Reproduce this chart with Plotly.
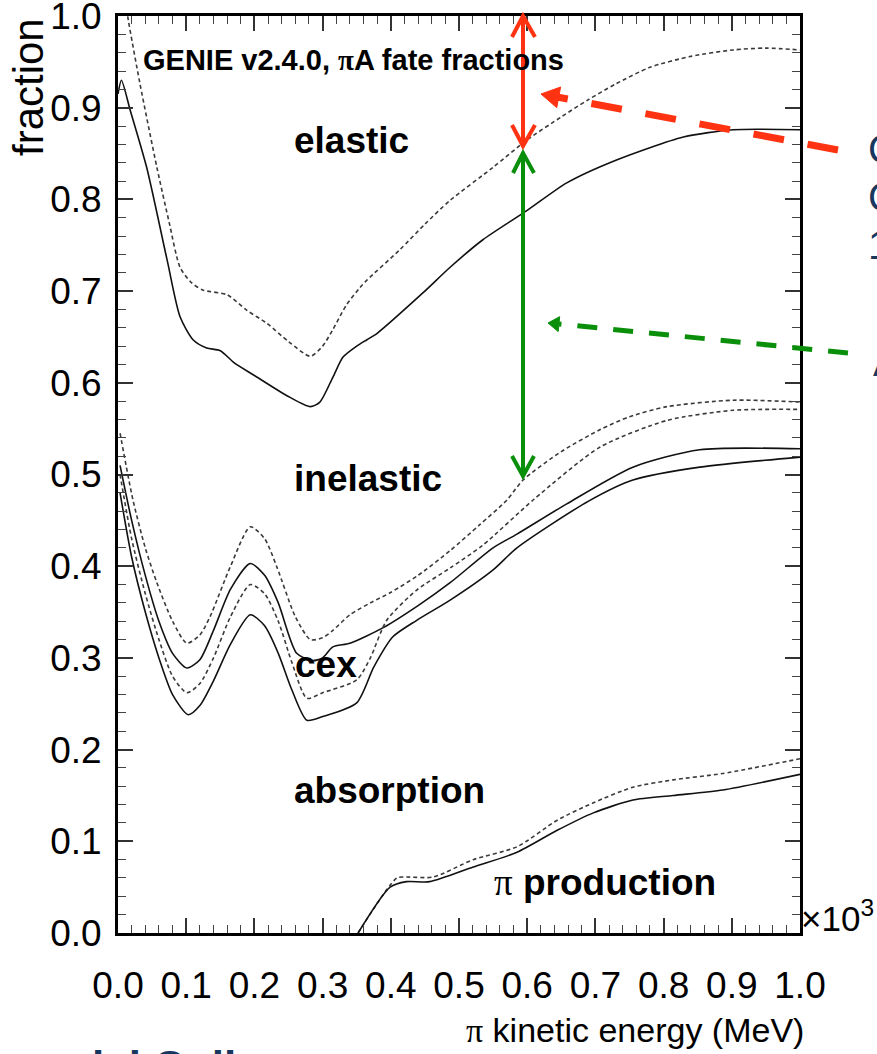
import plotly.graph_objects as go

# ---------------- data ----------------
# pion kinetic energy in units of 10^3 MeV
el_hi_x = [0.008, 0.015, 0.032, 0.057, 0.075, 0.091, 0.108, 0.125, 0.16, 0.189, 0.218, 0.25, 0.282, 0.30,
           0.315, 0.335, 0.355, 0.365, 0.413, 0.45, 0.487, 0.55, 0.6, 0.65, 0.688, 0.73, 0.78, 0.84, 0.902, 0.95, 1.0]
el_hi_y = [1.03, 0.996, 0.927, 0.835, 0.775, 0.726, 0.709, 0.701, 0.696, 0.679, 0.665, 0.645, 0.629, 0.64,
           0.658, 0.685, 0.704, 0.712, 0.745, 0.773, 0.799, 0.835, 0.865, 0.89, 0.908, 0.926, 0.944, 0.956, 0.963, 0.965, 0.963]

el_lo_x = [0.0, 0.005, 0.018, 0.042, 0.072, 0.091, 0.11, 0.13, 0.15, 0.17, 0.2, 0.25, 0.282, 0.296, 0.315,
           0.33, 0.35, 0.365, 0.38, 0.447, 0.487, 0.535, 0.6, 0.658, 0.731, 0.829, 0.902, 1.0]
el_lo_y = [0.915, 0.93, 0.897, 0.835, 0.734, 0.672, 0.647, 0.638, 0.635, 0.622, 0.608, 0.585, 0.574, 0.579, 0.606,
           0.628, 0.64, 0.647, 0.654, 0.698, 0.726, 0.756, 0.788, 0.818, 0.843, 0.868, 0.876, 0.876]

in_d1_x = [0.003, 0.022, 0.04, 0.057, 0.08, 0.101, 0.12, 0.135, 0.165, 0.194, 0.215, 0.233, 0.26, 0.282, 0.30,
           0.315, 0.34, 0.37, 0.399, 0.44, 0.487, 0.53, 0.57, 0.594, 0.65, 0.707, 0.75, 0.805, 0.902, 1.0]
in_d1_y = [0.545, 0.472, 0.42, 0.382, 0.34, 0.316, 0.325, 0.345, 0.40, 0.443, 0.43, 0.399, 0.345, 0.32, 0.322,
           0.33, 0.347, 0.36, 0.371, 0.39, 0.417, 0.445, 0.472, 0.494, 0.525, 0.549, 0.563, 0.574, 0.581, 0.579]

in_s1_x = [0.003, 0.02, 0.04, 0.06, 0.08, 0.101, 0.12, 0.14, 0.165, 0.194, 0.215, 0.235, 0.262, 0.285, 0.30,
           0.315, 0.34, 0.389, 0.44, 0.487, 0.55, 0.585, 0.658, 0.755, 0.853, 1.0]
in_s1_y = [0.51, 0.45, 0.39, 0.34, 0.305, 0.289, 0.298, 0.33, 0.375, 0.403, 0.39, 0.36, 0.305, 0.297, 0.30,
           0.312, 0.316, 0.333, 0.357, 0.382, 0.42, 0.435, 0.468, 0.508, 0.527, 0.528]

in_d2_x = [0.003, 0.02, 0.04, 0.06, 0.08, 0.101, 0.12, 0.14, 0.165, 0.194, 0.215, 0.235, 0.255, 0.277, 0.30,
           0.35, 0.37, 0.394, 0.438, 0.487, 0.535, 0.61, 0.707, 0.805, 0.902, 1.0]
in_d2_y = [0.50, 0.43, 0.37, 0.32, 0.28, 0.262, 0.272, 0.30, 0.345, 0.38, 0.37, 0.34, 0.295, 0.256, 0.262,
           0.276, 0.30, 0.341, 0.374, 0.398, 0.423, 0.473, 0.53, 0.559, 0.57, 0.571]

in_s2_x = [0.003, 0.02, 0.04, 0.06, 0.08, 0.103, 0.12, 0.14, 0.165, 0.194, 0.215, 0.235, 0.255, 0.277, 0.30,
           0.35, 0.375, 0.403, 0.438, 0.487, 0.55, 0.585, 0.69, 0.755, 0.853, 1.0]
in_s2_y = [0.48, 0.41, 0.35, 0.30, 0.26, 0.238, 0.248, 0.275, 0.315, 0.347, 0.335, 0.305, 0.265, 0.232, 0.236,
           0.251, 0.29, 0.323, 0.341, 0.363, 0.396, 0.42, 0.471, 0.494, 0.508, 0.519]

pr_s_x = [0.352, 0.399, 0.423, 0.457, 0.521, 0.585, 0.644, 0.697, 0.755, 0.814, 0.887, 1.0]
pr_s_y = [0.0, 0.050, 0.056, 0.056, 0.072, 0.088, 0.112, 0.131, 0.145, 0.150, 0.156, 0.173]

pr_d_x = [0.352, 0.409, 0.423, 0.462, 0.521, 0.585, 0.644, 0.697, 0.755, 0.814, 0.887, 1.0]
pr_d_y = [0.0, 0.060, 0.061, 0.061, 0.080, 0.094, 0.123, 0.142, 0.159, 0.167, 0.174, 0.19]

region_labels = ["elastic", "inelastic", "cex", "absorption", "π production"]
x_tick_vals = [0.0, 0.1, 0.2, 0.3, 0.4, 0.5, 0.6, 0.7, 0.8, 0.9, 1.0]
y_tick_vals = [0.0, 0.1, 0.2, 0.3, 0.4, 0.5, 0.6, 0.7, 0.8, 0.9, 1.0]

# ---------------- layout geometry ----------------
W, H = 877, 1054
L, R, T, B = 118, 77, 16, 121
PW, PH = W - L - R, H - T - B


def px(xp, yp):
    """pixel position -> paper coordinates"""
    return (xp - L) / PW, (H - B - yp) / PH


SANS = "Liberation Sans, Arial, Helvetica, sans-serif"
PI = "<span style='font-family:Liberation Serif'>π</span>"

fig = go.Figure()

solid = dict(color="#111111", width=1.6, shape="spline", smoothing=0.7)
dashed = dict(color="#3a3a3a", width=1.6, dash="4px,3px", shape="spline", smoothing=0.7)

for xs, ys, st in [
    (el_hi_x, el_hi_y, dashed), (el_lo_x, el_lo_y, solid),
    (in_d1_x, in_d1_y, dashed), (in_s1_x, in_s1_y, solid),
    (in_d2_x, in_d2_y, dashed), (in_s2_x, in_s2_y, solid),
    (pr_d_x, pr_d_y, dashed), (pr_s_x, pr_s_y, solid),
]:
    fig.add_trace(go.Scatter(x=xs, y=ys, mode="lines", line=st, showlegend=False, hoverinfo="skip"))

axis_common = dict(
    range=[0, 1], showgrid=False, zeroline=False, showline=True, linewidth=3, linecolor="black",
    mirror="ticks", ticks="inside", ticklen=15, tickwidth=1.6, tickcolor="#333333", automargin=False,
    ticklabeloverflow="allow",
    tickformat=".1f", tickfont=dict(family=SANS, size=37, color="black"),
    minor=dict(ticks="inside", ticklen=8, tickwidth=1.4, tickcolor="#444444", dtick=0.02, showgrid=False),
)
fig.update_xaxes(**axis_common, tickvals=x_tick_vals, ticklabelstandoff=18)
fig.update_yaxes(**axis_common, tickvals=y_tick_vals, ticklabelstandoff=6)

annotations = []


def txt(text, xp, yp, size, xanchor="left", color="black", angle=0):
    xx, yy = px(xp, yp)
    annotations.append(dict(text=text, x=xx, y=yy, xref="paper", yref="paper", xanchor=xanchor,
                            yanchor="middle", showarrow=False, textangle=angle,
                            font=dict(family=SANS, size=size, color=color)))


txt(f"<b>GENIE v2.4.0, {PI}A fate fractions</b>", 141, 60, 29)
txt("<b>elastic</b>", 292, 140, 37)
txt("<b>inelastic</b>", 292, 479, 37)
txt("<b>cex</b>", 293, 664, 37)
txt("<b>absorption</b>", 292, 790, 37)
txt(f"{PI} <b>production</b>", 492, 882, 37)
txt(f"{PI} kinetic energy (MeV)", 806, 1030, 34, xanchor="right")
txt("fraction", 28, 87, 42, xanchor="center", angle=-90)
txt("×10<sup>3</sup>", 799, 916, 35)

NAVY = "#17375e"
txt("C", 866, 149, 40, color=NAVY)
txt("C", 866, 197, 40, color=NAVY)
txt("1", 866, 245, 40, color=NAVY)
txt("A", 871, 362, 40, color=NAVY)
txt("<b>ial Coll</b>", 90, 1066, 44, color=NAVY)

fig.update_layout(annotations=annotations)

# ---------------- arrows (annotation graphics) ----------------
RED = "#ff3311"
GREEN = "#0a8f0a"
shapes = []


def seg(p, q, color, width, dash="solid"):
    a, b = px(*p), px(*q)
    shapes.append(dict(type="line", xref="paper", yref="paper", x0=a[0], y0=a[1], x1=b[0], y1=b[1],
                       line=dict(color=color, width=width, dash=dash), layer="above"))


def poly(pts, color, fill=None, width=4):
    d = ""
    for i, p in enumerate(pts):
        a = px(*p)
        d += ("M" if i == 0 else "L") + f"{a[0]},{a[1]}"
    if fill:
        d += "Z"
    shapes.append(dict(type="path", xref="paper", yref="paper", path=d,
                       line=dict(color=color, width=width), fillcolor=fill if fill else "rgba(0,0,0,0)",
                       layer="above"))


def tri_head(tip, toward, length, half, color):
    dx, dy = toward[0] - tip[0], toward[1] - tip[1]
    n = (dx * dx + dy * dy) ** 0.5
    ux, uy = dx / n, dy / n
    cx, cy = tip[0] + ux * length, tip[1] + uy * length
    p1 = (cx - uy * half, cy + ux * half)
    p2 = (cx + uy * half, cy - ux * half)
    poly([tip, p1, p2], color, fill=color, width=1)


AX = 523
# red double arrow
seg((AX, 17), (AX, 145), RED, 4)
poly([(512, 37), (AX, 16), (535, 37)], RED)
poly([(512, 125), (AX, 146), (535, 125)], RED)
# green double arrow
seg((AX, 154), (AX, 475), GREEN, 4)
poly([(513, 173), (AX, 153), (534, 173)], GREEN)
poly([(512, 456), (AX, 476), (534, 456)], GREEN)

# red dashed pointer
seg((838, 150), (557, 97), RED, 7, dash="31px,24px")
tri_head((541, 94), (838, 150), 18, 10.5, RED)
# green dashed pointer
seg((848, 353), (559, 324), GREEN, 5, dash="20px,16px")
tri_head((548, 323), (848, 353), 11, 7.5, GREEN)

fig.update_layout(
    template="none",
    shapes=shapes,
    width=W, height=H,
    margin=dict(l=L, r=R, t=T, b=B, pad=0),
    paper_bgcolor="white", plot_bgcolor="white",
    font=dict(family=SANS, color="black"),
    showlegend=False,
)

fig.write_html("out.html", config={"displayModeBar": False},
               post_script="document.body.style.margin='0';document.body.style.overflow='hidden';")
